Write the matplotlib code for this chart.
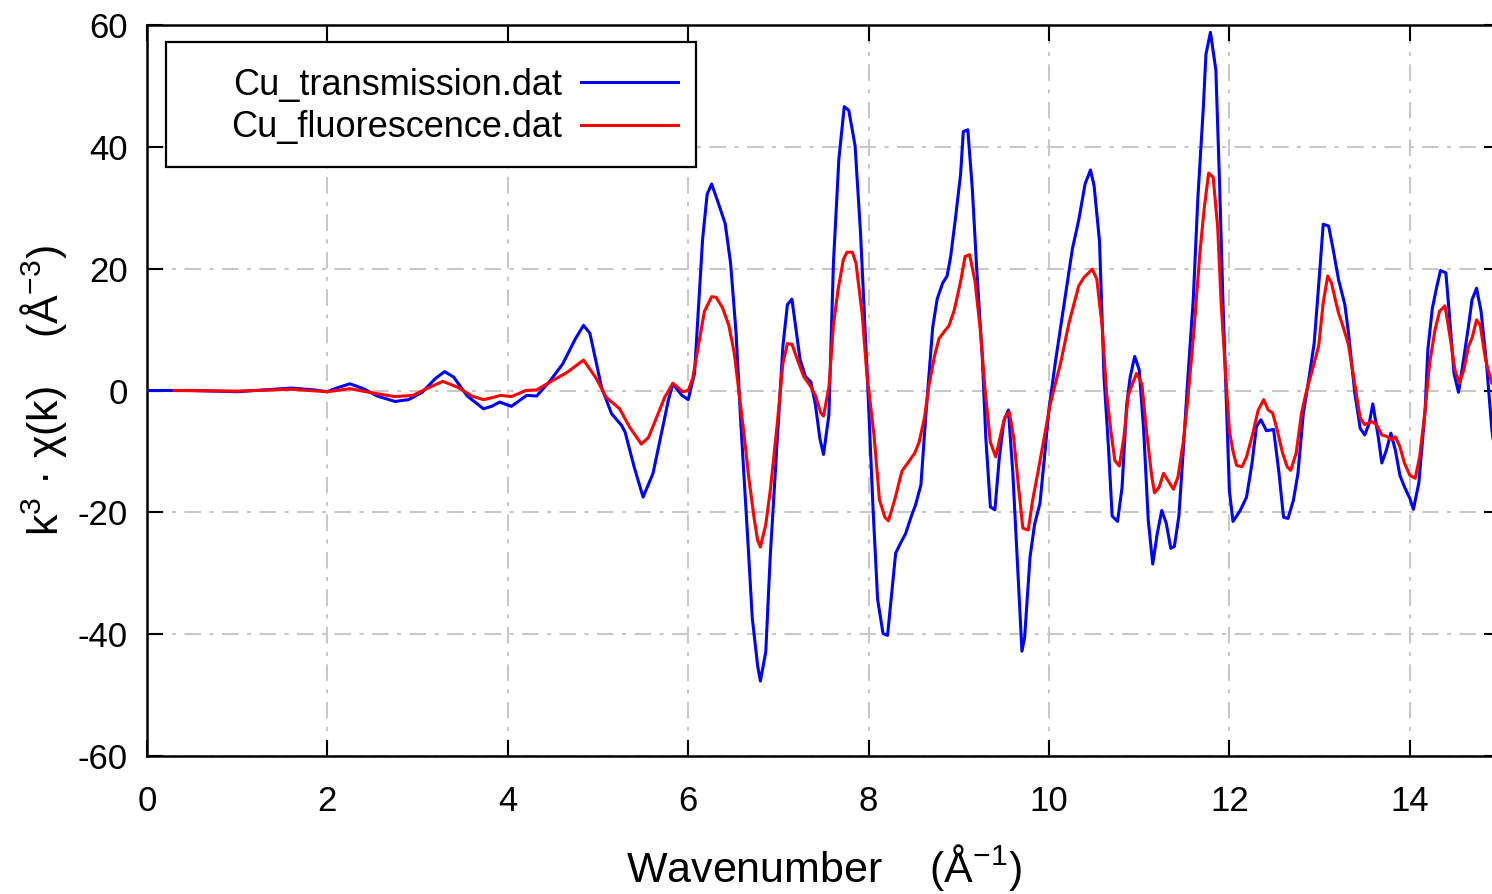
import matplotlib
matplotlib.use("Agg")
import matplotlib.pyplot as plt
from matplotlib.patches import Rectangle

plt.rcParams["font.family"] = ["Liberation Sans", "DejaVu Sans"]
plt.rcParams["mathtext.fontset"] = "custom"
plt.rcParams["mathtext.rm"] = "Liberation Sans"
plt.rcParams["mathtext.it"] = "Liberation Sans:italic"
plt.rcParams["axes.unicode_minus"] = False

# k (1/A) and k^3 chi(k)
k_trans = [0.0, 0.5, 1.0, 1.3, 1.6, 1.85, 2.0, 2.1, 2.25, 2.4, 2.55, 2.75, 2.9, 3.05,
           3.2, 3.3, 3.4, 3.55, 3.73, 3.82, 3.91, 4.04, 4.21, 4.32, 4.47, 4.61, 4.75,
           4.84, 4.91, 5.04, 5.15, 5.26, 5.30, 5.40, 5.50, 5.61, 5.78, 5.83, 5.93, 6.0,
           6.07, 6.16, 6.21, 6.26, 6.34, 6.41, 6.47, 6.53, 6.58, 6.66, 6.71, 6.77, 6.80,
           6.86, 6.91, 6.99, 7.05, 7.10, 7.15, 7.24, 7.30, 7.36, 7.41, 7.46, 7.50, 7.56,
           7.61, 7.67, 7.73, 7.78, 7.85, 7.91, 7.99, 8.05, 8.10, 8.16, 8.21, 8.30, 8.36,
           8.41, 8.47, 8.52, 8.58, 8.63, 8.71, 8.76, 8.82, 8.87, 8.91, 8.96, 9.02, 9.05,
           9.10, 9.15, 9.20, 9.26, 9.30, 9.35, 9.40, 9.45, 9.50, 9.55, 9.60, 9.65, 9.70,
           9.73, 9.79, 9.84, 9.90, 9.95, 10.0, 10.07, 10.17, 10.26, 10.33, 10.40, 10.46,
           10.50, 10.56, 10.61, 10.66, 10.70, 10.76, 10.81, 10.86, 10.90, 10.95, 11.00,
           11.05, 11.10, 11.15, 11.20, 11.25, 11.30, 11.35, 11.39, 11.44, 11.49, 11.54,
           11.60, 11.65, 11.71, 11.74, 11.79, 11.85, 11.89, 11.93, 11.97, 12.00, 12.04,
           12.12, 12.19, 12.25, 12.30, 12.35, 12.41, 12.49, 12.55, 12.60, 12.65, 12.71,
           12.76, 12.82, 12.88, 12.94, 13.00, 13.04, 13.10, 13.15, 13.21, 13.28, 13.32,
           13.39, 13.45, 13.50, 13.55, 13.59, 13.65, 13.69, 13.74, 13.79, 13.84, 13.89,
           13.94, 14.00, 14.04, 14.10, 14.17, 14.20, 14.25, 14.30, 14.34, 14.40, 14.44,
           14.49, 14.54, 14.59, 14.65, 14.69, 14.74, 14.79, 14.85, 14.91, 14.96]
chi_trans = [0.0, 0.0, -0.2, 0.1, 0.4, 0.1, -0.2, 0.4, 1.1, 0.3, -0.9, -1.8, -1.5, -0.3,
             2.0, 3.1, 2.2, -0.9, -3.0, -2.6, -1.9, -2.6, -0.8, -0.9, 1.6, 4.4, 8.5,
             10.7, 9.4, 0.5, -3.8, -5.7, -6.8, -12.5, -17.5, -13.6, -1.6, 1.1, -0.8, -1.5,
             2.8, 24.9, 32.2, 33.9, 30.5, 27.4, 20.9, 9.6, -4.5, -24.3, -37.3, -45.2, -47.7,
             -42.9, -27.1, -7.3, 7.3, 14.1, 15.0, 5.1, 2.3, 1.4, -2.3, -7.9, -10.5, -4.0,
             20.9, 37.9, 46.6, 46.0, 40.2, 26.0, 0.9, -19.6, -34.3, -39.9, -40.2, -26.7, -24.9,
             -23.5, -20.8, -18.8, -15.5, -5.0, 10.3, 15.0, 17.6, 18.8, 22.0, 27.9, 35.5, 42.5,
             42.8, 33.1, 19.6, 5.6, -7.9, -19.1, -19.6, -10.9, -5.0, -3.2, -13.8, -28.4, -42.8,
             -40.5, -27.3, -22.0, -18.5, -10.9, -3.0, 4.6, 14.5, 23.3, 28.0, 33.9, 36.2,
             33.6, 24.5, 2.2, -9.5, -20.6, -21.5, -15.9, -2.5, 2.2, 5.6, 3.4,
             -6.6, -21.2, -28.5, -23.5, -19.7, -21.8, -25.9, -25.6, -20.6, -9.5, 2.2,
             15.1, 31.5, 46.2, 55.2, 58.8, 52.6, 34.4, 13.9, -3.6, -16.5, -21.5,
             -19.7, -17.5, -12.0, -5.9, -4.8, -6.6, -6.4, -13.6, -20.8, -21.0, -18.0,
             -13.6, -3.7, 1.8, 7.8, 19.3, 27.3, 27.0, 23.2, 18.2, 14.1, 9.5,
             -0.4, -6.2, -7.3, -5.4, -2.2, -7.6, -11.9, -9.8, -7.0, -9.8, -13.9,
             -15.8, -17.7, -19.5, -15.2, -3.2, 6.7, 13.5, 17.1, 19.7, 19.3, 12.2,
             2.8, -0.3, 4.5, 10.5, 14.9, 16.8, 13.0, 4.5, -6.5, -12.0]

k_fluo = [0.3, 1.0, 1.6, 2.0, 2.25, 2.5, 2.75, 2.95, 3.1, 3.28, 3.45, 3.6, 3.73, 3.85,
          3.92, 4.04, 4.20, 4.32, 4.47, 4.66, 4.84, 4.98, 5.09, 5.24, 5.35, 5.48, 5.56,
          5.74, 5.83, 5.94, 6.0, 6.05, 6.10, 6.18, 6.26, 6.31, 6.38, 6.45, 6.51, 6.56,
          6.62, 6.67, 6.73, 6.77, 6.80, 6.86, 6.91, 6.99, 7.05, 7.10, 7.15, 7.21, 7.28,
          7.36, 7.41, 7.47, 7.50, 7.56, 7.61, 7.66, 7.72, 7.76, 7.82, 7.86, 7.93, 7.98,
          8.06, 8.12, 8.18, 8.22, 8.29, 8.37, 8.43, 8.51, 8.56, 8.62, 8.67, 8.73, 8.78,
          8.84, 8.89, 8.95, 9.02, 9.07, 9.12, 9.18, 9.24, 9.29, 9.35, 9.41, 9.48, 9.51,
          9.56, 9.61, 9.66, 9.71, 9.77, 9.82, 9.88, 9.93, 10.01, 10.06, 10.13, 10.22,
          10.33, 10.39, 10.48, 10.53, 10.59, 10.64, 10.69, 10.73, 10.78, 10.83, 10.88,
          10.94, 10.97, 11.03, 11.08, 11.14, 11.17, 11.22, 11.27, 11.32, 11.38, 11.43,
          11.49, 11.54, 11.61, 11.67, 11.72, 11.77, 11.82, 11.87, 11.91, 11.96, 12.00,
          12.04, 12.08, 12.14, 12.19, 12.25, 12.32, 12.38, 12.43, 12.48, 12.53, 12.59,
          12.64, 12.68, 12.74, 12.80, 12.85, 12.92, 12.99, 13.04, 13.09, 13.13, 13.21,
          13.26, 13.32, 13.39, 13.45, 13.50, 13.58, 13.63, 13.69, 13.74, 13.80, 13.84,
          13.89, 13.94, 14.00, 14.06, 14.11, 14.17, 14.22, 14.28, 14.33, 14.39, 14.44,
          14.50, 14.55, 14.60, 14.65, 14.69, 14.74, 14.78, 14.84, 14.91, 14.96]
chi_fluo = [0.0, -0.1, 0.2, -0.2, 0.3, -0.4, -1.0, -0.8, 0.3, 1.5, 0.5, -0.9, -1.5, -1.1,
            -0.8, -1.0, 0.0, 0.1, 1.4, 3.0, 5.0, 2.0, -1.1, -3.0, -6.0, -8.8, -7.7,
            -1.1, 1.2, -0.2, 0.0, 2.0, 6.2, 13.0, 15.4, 15.3, 13.6, 10.7, 6.2, 0.0,
            -7.3, -14.1, -20.9, -24.6, -25.7, -22.0, -16.4, -5.1, 4.5, 7.7, 7.6, 5.1, 2.3,
            0.6, -0.8, -3.7, -4.2, 0.6, 10.7, 16.4, 21.5, 22.7, 22.7, 20.9, 12.4, 2.8,
            -7.3, -17.9, -20.8, -21.4, -17.9, -13.2, -12.0, -10.3, -8.5, -4.4, 0.9, 5.6, 8.5,
            9.7, 10.6, 13.2, 17.9, 22.0, 22.3, 17.9, 9.7, 0.3, -8.5, -10.9, -6.2, -4.4,
            -3.5, -7.9, -15.5, -22.6, -22.9, -17.9, -13.2, -9.1, -2.5, 0.5, 4.6, 11.0,
            17.2, 18.6, 19.9, 18.3, 10.4, -0.7, -7.1, -11.5, -12.4, -7.7, -0.7,
            1.6, 2.8, 1.1, -6.5, -14.2, -16.8, -15.9, -13.6, -14.8, -16.2, -14.2,
            -8.3, -1.3, 10.4, 22.1, 29.8, 35.7, 35.0, 26.8, 13.9, 2.2, -6.6,
            -10.0, -12.3, -12.5, -10.9, -7.6, -3.2, -1.5, -3.2, -3.7, -6.5, -10.3,
            -12.5, -13.1, -10.3, -3.7, -0.4, 3.4, 7.3, 14.4, 18.8, 17.7, 12.7,
            10.5, 7.5, 1.0, -4.5, -5.6, -5.1, -5.6, -7.3, -7.5, -8.1, -7.6,
            -9.2, -11.9, -13.9, -14.4, -10.8, -3.2, 4.5, 10.0, 13.0, 13.9, 9.4,
            3.4, 1.2, 3.4, 7.2, 8.6, 11.6, 10.8, 5.0, 1.2, 0.5]

labels = ["Cu_transmission.dat", "Cu_fluorescence.dat"]

W, H = 1492, 894
fig = plt.figure(figsize=(W / 100, H / 100), dpi=100)
# right border of the plot sits just past the image edge, as in the original
ax = fig.add_axes([147 / W, 1 - 756 / H, (1500 - 147) / W, (756 - 25) / H])

ax.plot(k_trans, chi_trans, color="#0000ff", lw=2.2, label=labels[0], zorder=3)
ax.plot(k_fluo, chi_fluo, color="#ff0000", lw=2.2, label=labels[1], zorder=3)

ax.set_xlim(0, 15)
ax.set_ylim(-60, 60)
ax.set_xticks(range(0, 15, 2))
ax.set_yticks(range(-60, 61, 20))
ax.grid(True, color="#c8c8c8", lw=1.5, dashes=(8, 4, 2, 4), zorder=1)
ax.tick_params(direction="in", length=11.5, width=1.5, top=True, right=True,
               labelsize=25)
ax.tick_params(axis="x", pad=21)
ax.tick_params(axis="y", pad=14)
for sp in ax.spines.values():
    sp.set_linewidth(1.8)

ax.set_xlabel("Wavenumber    (Å$^{-1}$)", fontsize=31, labelpad=17)
ax.set_ylabel("k$^{3}$ · χ(k)    (Å$^{-3}$)", fontsize=31, labelpad=6)

# legend frame like gnuplot's key box, text right-aligned before the samples
ax.add_patch(Rectangle((166 / W, 1 - 167 / H), (696 - 166) / W, (167 - 42) / H,
                       transform=fig.transFigure, facecolor="white",
                       edgecolor="black", lw=1.6, zorder=4))
ax.legend(loc="upper right", bbox_to_anchor=(678 / W, 1 - 68 / H),
          bbox_transform=fig.transFigure, frameon=False, markerfirst=False,
          fontsize=26, borderpad=0, borderaxespad=0, handlelength=2.7,
          handletextpad=0.5, labelspacing=0.2)

fig.savefig("out.png", dpi=100)
